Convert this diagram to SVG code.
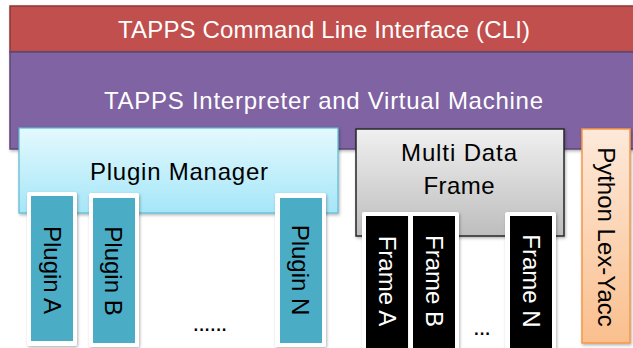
<svg xmlns="http://www.w3.org/2000/svg" width="633" height="348" viewBox="0 0 633 348">
<defs>
<linearGradient id="gPM" x1="0" y1="0" x2="0" y2="1"><stop offset="0" stop-color="#e4f9fe"/><stop offset="1" stop-color="#a5e6f8"/></linearGradient>
<linearGradient id="gMD" x1="0" y1="0" x2="0" y2="1"><stop offset="0" stop-color="#f0f0f0"/><stop offset="1" stop-color="#bdbdbd"/></linearGradient>
<linearGradient id="gPY" x1="0" y1="0" x2="0" y2="1"><stop offset="0" stop-color="#fde9da"/><stop offset="1" stop-color="#fabf8e"/></linearGradient>
<filter id="sh" x="-10%" y="-10%" width="130%" height="130%"><feDropShadow dx="1" dy="1.5" stdDeviation="1.5" flood-color="#000" flood-opacity="0.3"/></filter>
</defs>
<style>
text{font-family:"Liberation Sans",Arial,sans-serif;font-size:24px;text-anchor:middle}
.w{fill:#ffffff}
.k{fill:#000000}
.plug{fill:#4bacc6}
.out{fill:#ffffff;filter:url(#sh)}
.frm{fill:#000000}
</style>
<g id="cli">
<rect x="10" y="6" width="640" height="46" fill="#c0504d" stroke="#8c3836" stroke-width="1.5" filter="url(#sh)"/>
<text class="w" x="324" y="38" textLength="412" lengthAdjust="spacing">TAPPS Command Line Interface (CLI)</text>
</g>
<g id="interpreter">
<rect x="10" y="52" width="640" height="97" fill="#8064a2" stroke="#5c4776" stroke-width="1.5" filter="url(#sh)"/>
<text class="w" x="323.5" y="109" textLength="439" lengthAdjust="spacing">TAPPS Interpreter and Virtual Machine</text>
</g>
<g id="plugin-manager">
<rect x="19" y="128" width="319" height="85" fill="url(#gPM)" stroke="#5bb9d2" stroke-width="1.2" filter="url(#sh)"/>
<text class="k" x="179" y="180" textLength="178" lengthAdjust="spacing">Plugin Manager</text>
</g>
<g id="plugin-a">
<rect class="out" x="27" y="192" width="50" height="154" rx="2"/>
<rect class="plug" x="31" y="196" width="42" height="145"/>
<text class="k" transform="translate(52,270) rotate(90)" x="0" y="8.5">Plugin A</text>
</g>
<g id="plugin-b">
<rect class="out" x="89" y="193" width="50" height="154" rx="2"/>
<rect class="plug" x="93" y="198" width="42" height="145"/>
<text class="k" transform="translate(113,271) rotate(90)" x="0" y="8.5">Plugin B</text>
</g>
<g id="plugin-n">
<rect class="out" x="275" y="193" width="51" height="154" rx="2"/>
<rect class="plug" x="280" y="198" width="42" height="145"/>
<text class="k" transform="translate(300,270) rotate(90)" x="0" y="8.5">Plugin N</text>
</g>
<g id="plugin-dots">
<text class="k" x="210" y="331" textLength="35" lengthAdjust="spacing">......</text>
</g>
<g id="multi-data-frame">
<rect x="356" y="129" width="208" height="107" fill="url(#gMD)" stroke="#262626" stroke-width="1.5" filter="url(#sh)"/>
<text class="k" x="459" y="161" textLength="116" lengthAdjust="spacing">Multi Data</text>
<text class="k" x="459" y="194" textLength="71" lengthAdjust="spacing">Frame</text>
</g>
<g id="frame-a">
<rect class="out" x="362" y="212" width="50" height="140" rx="2"/>
<rect class="frm" x="366" y="216" width="42" height="136"/>
<text class="w" transform="translate(387,281) rotate(90)" x="0" y="8.5">Frame A</text>
</g>
<g id="frame-b">
<rect class="out" x="409" y="212" width="50" height="140" rx="2"/>
<rect class="frm" x="413" y="216" width="42" height="136"/>
<text class="w" transform="translate(434,281) rotate(90)" x="0" y="8.5">Frame B</text>
</g>
<g id="frame-n">
<rect class="out" x="505" y="212" width="51" height="140" rx="2"/>
<rect class="frm" x="510" y="216" width="42" height="136"/>
<text class="w" transform="translate(531,281) rotate(90)" x="0" y="8.5">Frame N</text>
</g>
<g id="frame-dots">
<text class="k" x="482" y="335" textLength="18" lengthAdjust="spacing">...</text>
</g>
<g id="python-lex-yacc">
<rect x="582" y="129" width="48" height="214" fill="url(#gPY)" stroke="#f79646" stroke-width="1.5" filter="url(#sh)"/>
<text class="k" transform="translate(606,237) rotate(90)" x="0" y="8.5">Python Lex-Yacc</text>
</g>
<g id="connectors"></g>
</svg>
